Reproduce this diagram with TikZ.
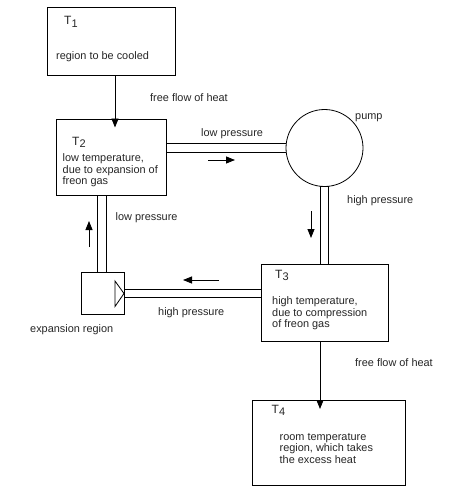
\documentclass[tikz,border=0pt]{standalone}
\usepackage{fontspec}
\setmainfont{Liberation Sans}
\usetikzlibrary{arrows.meta,calc}
\tikzset{
  x=1pt,y=-1pt,
  box/.style={draw=black,line width=0.9pt,rectangle,inner sep=0pt,anchor=north west},
  pipe/.style={draw=black,line width=0.8pt},
  flow/.style={draw=black,line width=0.8pt,-{Triangle[length=9pt,width=7pt]}},
  lbl/.style={anchor=base west,inner sep=0pt,font=\fontsize{10.9}{12}\selectfont,text=black!85},
  multi/.style={lbl,anchor=north west,align=left,font=\fontsize{10.9}{11.6}\selectfont},
}
\newcommand{\Tsub}[1]{\fontsize{12}{12}\selectfont T\raisebox{-2.5pt}{\fontsize{11}{11}\selectfont #1}}
\begin{document}
\begin{tikzpicture}
\useasboundingbox (0,0) rectangle (459,495);
\fill[white] (0,0) rectangle (459,495);
% boxes
\node[box,minimum width=128pt,minimum height=67.5pt] (t1) at (46.5,7.5) {};
\node[box,minimum width=110.5pt,minimum height=76.5pt] (t2) at (55.5,118.5) {};
\node[box,minimum width=127.5pt,minimum height=77pt] (t3) at (260.5,263.5) {};
\node[box,minimum width=153.5pt,minimum height=85pt] (t4) at (251.5,400) {};
\node[box,minimum width=43pt,minimum height=42pt] (exp) at (80.5,272) {};
\node[draw=black,line width=0.8pt,circle,inner sep=0pt,minimum size=77pt] (pump) at (324.5,148) {};
% nozzle
\coordinate (noza) at (115,281);
\coordinate (nozb) at (115,306.5);
\coordinate (nozc) at (124,293.5);
\draw[pipe] (noza) -- (nozc) -- (nozb) -- cycle;
% pipes: T2 to pump
\draw[pipe] (t2.east |- 0,143) coordinate (p1a) -- (pump.west |- 0,143);
\draw[pipe] (t2.east |- 0,152) coordinate (p1b) -- (pump.west |- 0,152);
% pipes: pump to T3
\coordinate (p2a) at (320,186.5);
\coordinate (p2b) at (328.5,186.5);
\draw[pipe] (p2a) -- (p2b);
\draw[pipe] (p2a) -- (p2a |- t3.north);
\draw[pipe] (p2b) -- (p2b |- t3.north);
% pipes: T3 to nozzle
\draw[pipe] (nozc |- 0,289.5) -- (t3.west |- 0,289.5);
\draw[pipe] (nozc |- 0,297.5) -- (t3.west |- 0,297.5);
% pipes: expansion to T2
\draw[pipe] (97.5,0 |- t2.south) -- (97.5,0 |- exp.north);
\draw[pipe] (106.5,0 |- t2.south) -- (106.5,0 |- exp.north);
% heat flow
\coordinate (h1) at (115,127.5);
\coordinate (h2) at (320,409);
\draw[flow] (h1 |- t1.south) -- (h1);
\draw[flow] (h2 |- t3.south) -- (h2);
% direction arrows
\coordinate (a1s) at (208,160); \coordinate (a1e) at (235,160);
\coordinate (a2s) at (311,211); \coordinate (a2e) at (311,238);
\coordinate (a3s) at (219,280); \coordinate (a3e) at (183,280);
\coordinate (a4s) at (89,247); \coordinate (a4e) at (89,221);
\draw[flow] (a1s) -- (a1e);
\draw[flow] (a2s) -- (a2e);
\draw[flow] (a3s) -- (a3e);
\draw[flow] (a4s) -- (a4e);
% labels
\node[lbl] (l1) at (64,25) {\Tsub{1}};
\node[lbl] (l2) at (56,59.5) {region to be cooled};
\node[lbl] (l3) at (150,101) {free flow of heat};
\node[lbl] (l4) at (72,145) {\Tsub{2}};
\node[multi] (l5) at (62.5,153.5) {low temperature,\\due to expansion of\\freon gas};
\node[lbl] (l6) at (201,136) {low pressure};
\node[lbl] (l7) at (355,119) {pump};
\node[lbl] (l8) at (347,203) {high pressure};
\node[lbl] (l9) at (115.5,220) {low pressure};
\node[lbl] (l10) at (275,278) {\Tsub{3}};
\node[multi] (l11) at (272,296.5) {high temperature,\\due to compression\\of freon gas};
\node[lbl] (l12) at (158,315) {high pressure};
\node[lbl] (l13) at (30,332) {expansion region};
\node[lbl] (l14) at (355,366) {free flow of heat};
\node[lbl] (l15) at (271.5,413) {\Tsub{4}};
\node[multi] (l16) at (279.5,433) {room temperature\\region, which takes\\the excess heat};
\end{tikzpicture}
\end{document}
